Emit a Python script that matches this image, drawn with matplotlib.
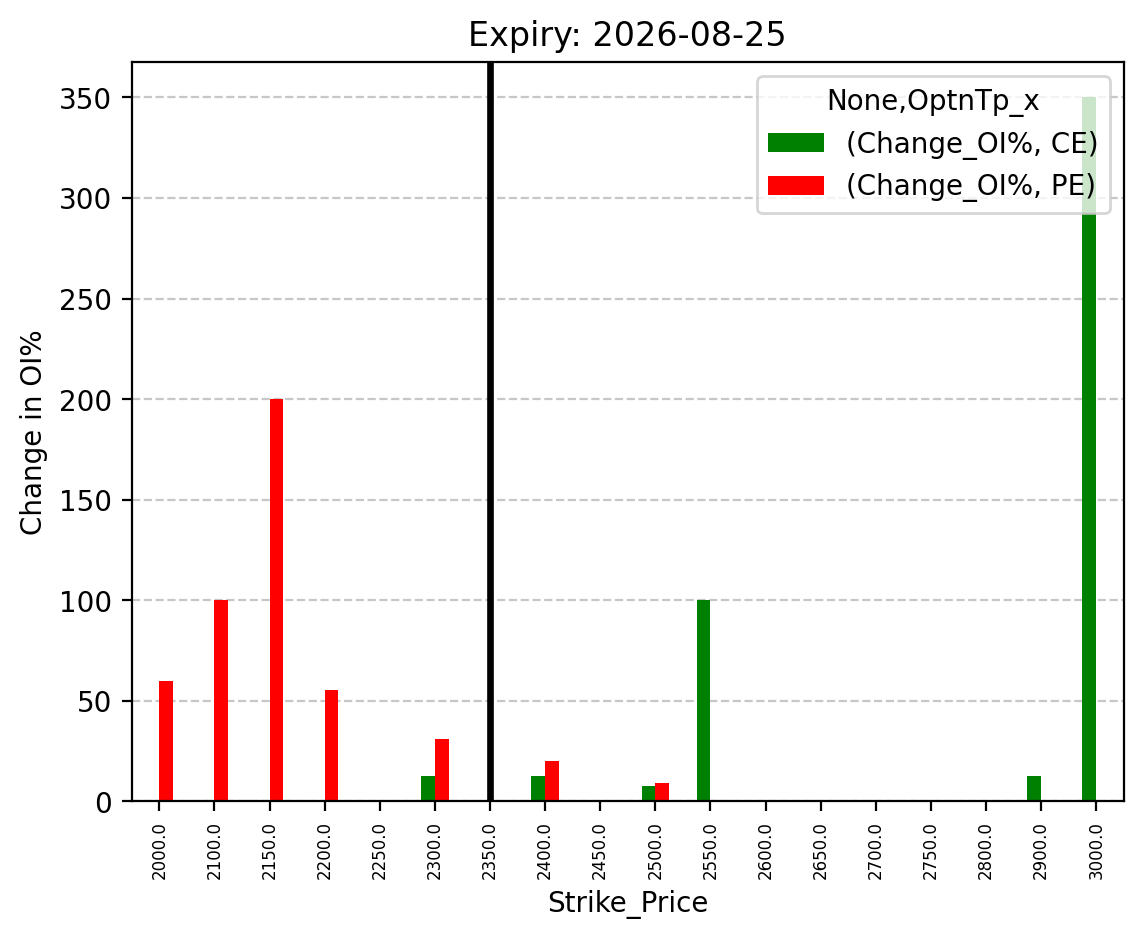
import matplotlib
matplotlib.use("Agg")
import matplotlib.pyplot as plt
import numpy as np

# strike prices and Change_OI% per option type
strikes = [2000.0, 2100.0, 2150.0, 2200.0, 2250.0, 2300.0, 2350.0, 2400.0, 2450.0,
           2500.0, 2550.0, 2600.0, 2650.0, 2700.0, 2750.0, 2800.0, 2900.0, 3000.0]
ce_oi = [0, 0, 0, 0, 0, 12.5, 0, 12.5, 0, 7.7, 100, 0, 0, 0, 0, 0, 12.5, 350]
pe_oi = [60, 100, 200, 55.6, 0, 31.25, 0, 20, 0, 9.1, 0, 0, 0, 0, 0, 0, 0, 0]
spot_strike = 2350.0
expiry = "2026-08-25"

fig, ax = plt.subplots(figsize=(6.4, 4.8), dpi=200)
x = np.arange(len(strikes))
w = 0.25
ax.bar(x - w / 2, ce_oi, w, color='green', label='(Change_OI%, CE)')
ax.bar(x + w / 2, pe_oi, w, color='red', label='(Change_OI%, PE)')
ax.set_xlim(-0.5, len(strikes) - 0.5)
ax.set_xticks(x)
ax.set_xticklabels([str(s) for s in strikes], rotation=90, fontsize=6)
ax.axvline(strikes.index(spot_strike), color='black', linewidth=2.4)
ax.grid(axis='y', linestyle='--', alpha=0.7)
ax.set_axisbelow(True)
ax.set_xlabel('Strike_Price')
ax.set_ylabel('Change in OI%')
ax.set_title('Expiry: ' + expiry)
ax.legend(title='None,OptnTp_x', loc='upper right')
fig.savefig('out.png', dpi=200, bbox_inches='tight')
